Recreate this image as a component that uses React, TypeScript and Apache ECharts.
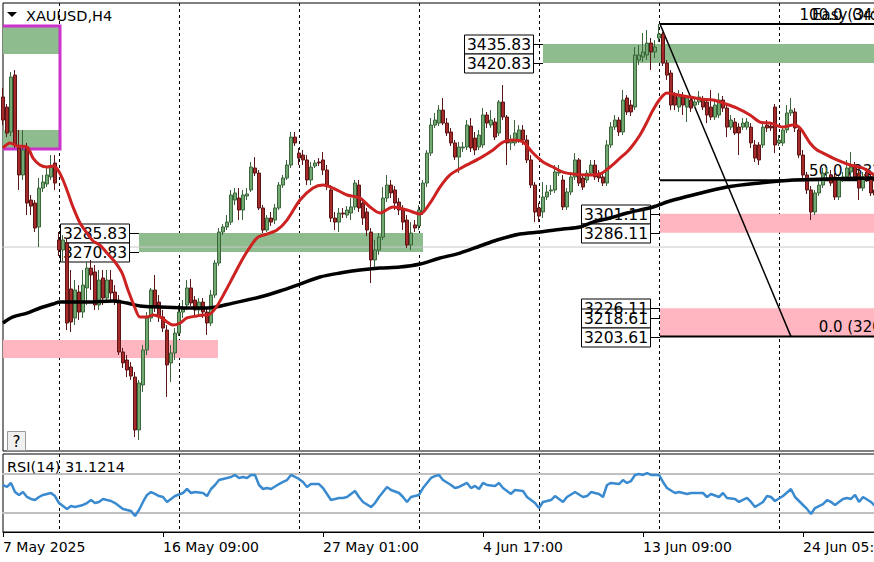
import React, { useEffect, useRef } from "react";
import * as echarts from "echarts";

const FONT = "DejaVu Sans";

// ---------- axis / categories ----------
const barCount = 219;
const categories = Array.from({ length: barCount }, (_, i) => String(i));
const tickIndex = [0, 40, 80, 120, 160, 200];
const tickLabels = ["7 May 2025", "16 May 09:00", "27 May 01:00", "4 Jun 17:00", "13 Jun 09:00", "24 Jun 05:00"];
const gridLineFirst = 14;
const gridLineStep = 30;
const priceMin = 3112.8;
const priceMax = 3468.4;
const rsiMin = 10.5;
const rsiMax = 90.5;

// ---------- candles: [open, close, low, high] ----------
const ohlc = [
  [3393.8, 3375.5, 3371.5, 3400.9], [3385.8, 3365.2, 3362.0, 3388.2], [3366.0, 3409.6, 3362.8, 3413.6], [3411.2, 3355.7, 3353.3, 3415.2],
  [3353.3, 3331.9, 3320.0, 3367.6], [3331.9, 3351.7, 3327.9, 3367.6], [3354.1, 3309.6, 3300.1, 3357.3], [3312.0, 3307.2, 3300.1, 3316.0],
  [3309.6, 3289.8, 3286.6, 3312.0], [3290.6, 3321.5, 3274.7, 3329.5], [3321.5, 3326.3, 3318.4, 3331.9], [3324.7, 3331.9, 3322.3, 3339.0],
  [3330.3, 3338.2, 3327.9, 3347.7], [3341.4, 3325.5, 3320.0, 3347.7], [3280.3, 3272.3, 3267.6, 3286.6], [3272.3, 3280.3, 3262.8, 3284.2],
  [3277.9, 3214.4, 3208.8, 3281.9], [3241.4, 3215.2, 3207.2, 3256.5], [3218.4, 3240.6, 3212.8, 3248.5], [3239.0, 3223.1, 3216.8, 3244.5],
  [3223.1, 3244.5, 3218.4, 3256.5], [3242.2, 3258.0, 3228.7, 3262.8], [3258.0, 3252.5, 3240.6, 3264.4], [3254.9, 3228.7, 3224.7, 3260.4],
  [3228.7, 3248.5, 3224.7, 3256.5], [3250.1, 3234.2, 3228.7, 3256.5], [3234.2, 3248.5, 3231.0, 3256.5], [3248.5, 3238.2, 3232.6, 3256.5],
  [3239.0, 3232.6, 3228.7, 3244.5], [3232.6, 3191.4, 3189.0, 3236.6], [3191.4, 3182.7, 3178.7, 3194.6], [3185.0, 3177.1, 3171.5, 3189.0],
  [3179.5, 3172.3, 3169.2, 3183.4], [3171.5, 3129.5, 3123.9, 3175.5], [3129.5, 3166.8, 3121.5, 3169.2], [3165.2, 3193.0, 3159.6, 3196.9],
  [3193.0, 3218.4, 3189.0, 3223.1], [3218.4, 3240.6, 3215.2, 3242.2], [3240.6, 3226.3, 3223.1, 3252.5], [3231.0, 3219.2, 3215.2, 3236.6],
  [3219.2, 3210.4, 3207.2, 3224.7], [3208.8, 3181.1, 3155.7, 3212.8], [3182.7, 3190.6, 3167.6, 3196.9], [3190.6, 3206.4, 3185.0, 3210.4],
  [3206.4, 3223.1, 3204.1, 3228.7], [3223.1, 3226.3, 3218.4, 3232.6], [3228.7, 3242.2, 3224.7, 3248.5], [3242.2, 3230.3, 3227.9, 3249.3],
  [3232.6, 3224.7, 3220.7, 3235.8], [3224.7, 3231.0, 3221.5, 3234.2], [3231.0, 3223.1, 3218.4, 3234.2], [3223.1, 3214.4, 3204.9, 3226.3],
  [3214.4, 3236.6, 3212.0, 3240.6], [3236.6, 3262.0, 3234.2, 3264.4], [3262.0, 3286.6, 3259.6, 3289.8], [3286.6, 3290.6, 3284.2, 3292.9],
  [3290.6, 3294.5, 3288.2, 3300.1], [3294.5, 3316.0, 3292.2, 3320.0], [3312.0, 3317.6, 3308.0, 3321.5], [3313.6, 3304.1, 3296.1, 3321.5],
  [3304.1, 3316.0, 3296.1, 3320.0], [3315.2, 3316.8, 3312.0, 3321.5], [3320.0, 3338.2, 3318.4, 3342.2], [3337.4, 3333.4, 3331.1, 3346.1],
  [3333.4, 3305.7, 3304.1, 3335.8], [3305.7, 3288.2, 3285.8, 3308.0], [3288.2, 3297.7, 3286.6, 3300.1], [3297.7, 3294.5, 3291.4, 3302.5],
  [3296.1, 3305.7, 3292.9, 3308.8], [3305.7, 3323.9, 3304.1, 3326.3], [3323.9, 3329.5, 3321.5, 3331.9], [3329.5, 3339.8, 3327.9, 3343.8],
  [3339.8, 3362.0, 3337.4, 3366.0], [3362.0, 3357.3, 3354.9, 3366.0], [3349.3, 3345.3, 3339.8, 3353.3], [3347.7, 3343.8, 3339.8, 3351.7],
  [3343.8, 3327.9, 3323.9, 3347.7], [3327.9, 3338.2, 3323.9, 3342.2], [3339.0, 3341.4, 3337.4, 3343.8], [3342.2, 3341.4, 3339.0, 3345.3],
  [3343.8, 3335.8, 3331.9, 3350.1], [3335.8, 3323.9, 3320.0, 3339.8], [3320.0, 3297.7, 3294.5, 3323.9], [3297.7, 3294.5, 3288.2, 3302.5],
  [3294.5, 3301.7, 3286.6, 3305.7], [3301.7, 3300.9, 3297.7, 3305.7], [3300.1, 3304.1, 3297.7, 3307.2], [3301.7, 3306.5, 3296.1, 3313.6],
  [3306.5, 3325.5, 3304.1, 3327.9], [3323.9, 3305.7, 3302.5, 3327.9], [3309.6, 3297.7, 3292.2, 3313.6], [3302.5, 3288.2, 3283.4, 3305.7],
  [3286.6, 3264.4, 3246.1, 3289.8], [3264.4, 3272.3, 3258.0, 3280.3], [3272.3, 3282.6, 3268.4, 3285.8], [3282.6, 3313.6, 3280.3, 3322.3],
  [3313.6, 3323.9, 3310.4, 3331.9], [3323.9, 3317.6, 3313.6, 3327.9], [3320.0, 3309.6, 3304.1, 3323.1], [3310.4, 3304.1, 3300.1, 3313.6],
  [3304.1, 3294.5, 3288.2, 3308.0], [3296.1, 3276.3, 3273.9, 3300.1], [3276.3, 3285.8, 3272.3, 3294.5], [3292.2, 3289.8, 3286.6, 3296.1],
  [3291.4, 3304.1, 3288.2, 3308.0], [3302.5, 3325.5, 3300.1, 3327.9], [3325.5, 3349.3, 3322.3, 3351.7], [3349.3, 3371.5, 3346.9, 3377.1],
  [3371.5, 3375.5, 3369.2, 3381.1], [3373.1, 3383.4, 3370.7, 3387.4], [3383.4, 3373.1, 3371.5, 3393.0], [3373.1, 3365.2, 3362.8, 3377.1],
  [3366.0, 3357.3, 3354.9, 3369.2], [3357.3, 3346.1, 3343.8, 3359.6], [3346.1, 3354.1, 3333.4, 3358.0], [3353.3, 3354.1, 3350.1, 3358.0],
  [3354.1, 3371.5, 3351.7, 3375.5], [3370.7, 3353.3, 3350.1, 3377.1], [3361.2, 3351.7, 3347.7, 3366.0], [3354.1, 3363.6, 3351.7, 3367.6],
  [3355.7, 3379.5, 3353.3, 3385.0], [3379.5, 3373.1, 3369.2, 3381.9], [3371.5, 3375.5, 3369.2, 3383.4], [3373.9, 3362.0, 3359.6, 3377.1],
  [3365.2, 3389.8, 3362.8, 3391.4], [3389.8, 3377.9, 3375.5, 3403.3], [3377.9, 3357.3, 3339.8, 3379.5], [3357.3, 3359.6, 3351.7, 3363.6],
  [3357.3, 3365.2, 3354.9, 3375.5], [3359.6, 3367.6, 3357.3, 3371.5], [3367.6, 3359.6, 3355.7, 3371.5], [3359.6, 3343.8, 3341.4, 3363.6],
  [3343.8, 3323.9, 3321.5, 3347.7], [3323.9, 3302.5, 3294.5, 3326.3], [3305.7, 3299.3, 3294.5, 3309.6], [3302.5, 3314.4, 3297.7, 3326.3],
  [3314.4, 3318.4, 3312.0, 3323.9], [3319.2, 3320.0, 3316.0, 3323.9], [3320.0, 3334.3, 3317.6, 3339.8], [3333.4, 3334.3, 3331.1, 3339.8],
  [3327.9, 3306.5, 3304.1, 3331.9], [3306.5, 3318.4, 3304.1, 3321.5], [3318.4, 3330.3, 3316.0, 3334.3], [3330.3, 3343.8, 3327.9, 3349.3],
  [3343.8, 3325.5, 3323.1, 3345.3], [3329.5, 3322.3, 3320.0, 3331.9], [3327.9, 3333.4, 3325.5, 3335.8], [3333.4, 3339.8, 3331.1, 3343.8],
  [3339.8, 3330.3, 3327.9, 3343.8], [3333.4, 3329.5, 3326.3, 3335.8], [3330.3, 3325.5, 3323.1, 3332.7], [3325.5, 3355.7, 3323.1, 3359.6],
  [3355.7, 3370.0, 3353.3, 3373.9], [3370.0, 3375.5, 3367.6, 3379.5], [3375.5, 3366.0, 3362.8, 3377.9], [3366.0, 3391.4, 3363.6, 3399.3],
  [3393.0, 3381.9, 3379.5, 3395.3], [3387.4, 3381.9, 3378.7, 3391.4], [3385.8, 3427.1, 3383.4, 3433.4], [3423.1, 3427.1, 3419.2, 3435.0],
  [3425.5, 3429.5, 3421.5, 3444.6], [3427.1, 3436.6, 3423.1, 3446.9], [3436.6, 3429.5, 3415.2, 3440.6], [3429.5, 3433.4, 3424.7, 3439.0],
  [3440.6, 3443.8, 3437.4, 3451.7], [3443.8, 3420.7, 3418.4, 3445.4], [3420.7, 3411.2, 3407.3, 3423.1], [3412.8, 3387.4, 3383.4, 3415.2],
  [3395.3, 3387.4, 3383.4, 3397.7], [3385.8, 3393.8, 3381.9, 3399.3], [3393.8, 3387.4, 3379.5, 3397.7], [3385.8, 3393.0, 3373.9, 3395.3],
  [3391.4, 3385.0, 3381.9, 3394.6], [3387.4, 3389.8, 3385.0, 3393.0], [3389.8, 3393.8, 3387.4, 3398.5], [3391.4, 3385.8, 3383.4, 3394.6],
  [3389.8, 3379.5, 3373.1, 3393.0], [3385.8, 3377.9, 3375.5, 3399.3], [3377.9, 3387.4, 3375.5, 3391.4], [3379.5, 3391.4, 3377.1, 3396.9],
  [3391.4, 3385.0, 3381.9, 3394.6], [3385.0, 3369.9, 3362.0, 3388.2], [3369.9, 3375.5, 3367.6, 3379.5], [3373.9, 3365.2, 3363.6, 3377.1],
  [3369.9, 3365.2, 3347.7, 3373.1], [3369.9, 3373.1, 3367.6, 3377.1], [3369.9, 3373.9, 3367.6, 3377.1], [3369.9, 3357.3, 3353.3, 3373.1],
  [3355.7, 3345.3, 3342.2, 3359.6], [3355.7, 3343.8, 3339.8, 3358.0], [3355.7, 3369.9, 3353.3, 3373.1], [3371.5, 3369.2, 3366.0, 3375.5],
  [3370.7, 3369.2, 3366.8, 3373.9], [3385.8, 3355.7, 3349.3, 3388.2], [3357.3, 3359.6, 3354.9, 3363.6], [3357.3, 3367.6, 3354.9, 3370.7],
  [3367.6, 3381.1, 3365.2, 3387.4], [3381.1, 3383.4, 3378.7, 3393.0], [3381.9, 3369.2, 3366.0, 3385.0], [3367.6, 3347.7, 3345.3, 3370.7],
  [3347.7, 3331.9, 3329.5, 3351.7], [3331.9, 3320.0, 3316.8, 3334.3], [3320.0, 3302.5, 3296.1, 3323.1], [3302.5, 3317.6, 3300.1, 3320.0],
  [3317.6, 3323.9, 3315.2, 3327.9], [3323.9, 3333.4, 3321.5, 3337.4], [3333.4, 3333.9, 3329.5, 3337.4], [3331.9, 3325.5, 3323.1, 3335.8],
  [3330.3, 3314.4, 3312.0, 3333.4], [3314.4, 3327.9, 3312.0, 3331.1], [3329.5, 3330.3, 3326.3, 3334.3], [3330.3, 3337.4, 3327.9, 3343.8],
  [3334.3, 3338.2, 3331.9, 3350.1], [3338.2, 3330.3, 3327.9, 3342.2], [3333.4, 3321.5, 3312.0, 3337.4], [3321.5, 3330.3, 3319.2, 3334.3],
  [3334.3, 3329.5, 3326.3, 3337.4], [3330.3, 3317.6, 3315.2, 3334.3], [3320.0, 3316.0, 3313.6, 3323.9],
];

// ---------- moving averages: [bar position, price] ----------
const maFast = [
  [0, 3353.3], [1.75, 3357.3], [3.5, 3354.9], [6, 3354.1], [7.5, 3345.3], [9.25, 3339.8], [11, 3338.2], [12.5, 3339.0],
  [13.75, 3335.8], [15, 3327.9], [16.25, 3317.6], [17.5, 3306.5], [19.25, 3293.8], [21, 3285.8], [22.5, 3279.5], [24.25, 3276.3],
  [26, 3269.9], [28, 3262.8], [29.75, 3254.1], [31.25, 3240.6], [33, 3226.3], [34.25, 3219.2], [36, 3219.2], [37.5, 3220.7],
  [39.25, 3219.2], [41, 3215.2], [42.5, 3212.8], [44.25, 3214.4], [46, 3218.4], [48.5, 3220.0], [50, 3220.7], [51.75, 3221.5],
  [53.5, 3227.9], [55.5, 3239.0], [57.5, 3250.9], [59.75, 3264.4], [61.75, 3274.7], [63.75, 3282.6], [66, 3285.0], [68.5, 3288.2],
  [71, 3296.1], [74.25, 3312.0], [77.5, 3321.5], [80, 3323.9], [82.5, 3321.5], [86, 3316.0], [89.25, 3313.6], [91.75, 3306.5],
  [94.25, 3301.7], [97.5, 3306.5], [101, 3304.1], [104.25, 3300.9], [106.75, 3309.6], [109.25, 3322.3], [111.75, 3331.9], [115, 3338.2],
  [119.25, 3345.3], [122.5, 3351.7], [125, 3358.0], [127.5, 3359.6], [130, 3358.0], [132.5, 3349.3], [135, 3342.2], [137.5, 3338.2],
  [140, 3334.2], [142.5, 3332.7], [146, 3331.9], [149.25, 3332.7], [151.75, 3338.2], [154.25, 3345.3], [156, 3350.1], [157.5, 3355.7],
  [159.25, 3363.6], [161, 3373.9], [162.5, 3383.4], [164.25, 3392.2], [166, 3396.9], [167.5, 3396.1], [171.75, 3393.8], [174.25, 3392.2],
  [177.5, 3391.4], [180, 3389.0], [183.5, 3385.0], [186.75, 3379.5], [189.25, 3373.9], [191.75, 3373.1], [195, 3370.0], [197.5, 3371.5],
  [199.25, 3369.2], [201.75, 3357.3], [203.5, 3351.7], [205, 3349.3], [208.5, 3343.8], [211.75, 3339.8], [215, 3337.4], [217.75, 3331.9],
];
const maSlow = [
  [0, 3214.4], [2.5, 3219.2], [6, 3222.3], [9.25, 3226.3], [12.5, 3229.5], [14.25, 3231.0], [21, 3231.0], [27.5, 3231.8],
  [31, 3230.2], [34.25, 3227.9], [39.25, 3227.1], [46, 3226.3], [51, 3226.3], [57.5, 3230.2], [64.25, 3235.0], [69.25, 3239.8],
  [74.25, 3245.3], [79.25, 3250.9], [84.25, 3254.1], [89.25, 3256.5], [94.25, 3258.0], [99.25, 3258.8], [104.25, 3261.2], [109.25, 3266.0],
  [114.25, 3269.9], [119.25, 3275.5], [123.5, 3280.3], [129.25, 3285.0], [134.25, 3286.6], [140, 3289.0], [144.25, 3290.6], [147.5, 3294.5],
  [151.75, 3297.7], [156, 3301.7], [162.5, 3306.5], [166.75, 3311.2], [172.5, 3316.0], [181, 3322.3], [189.25, 3325.5], [197.5, 3327.9],
  [206, 3328.7], [217.75, 3329.5],
];

// ---------- RSI(14): [bar, value] ----------
const rsiPoints = [
  [0, 58.7], [1, 56.7], [2, 60.8], [3, 51.5], [4, 48.5], [5, 51.5], [6, 46.4], [7, 44.4], [8, 43.3], [9, 46.4], [10, 48.5], [12, 50.5],
  [13, 47.4], [14, 40.2], [15, 37.2], [16, 34.1], [17, 37.2], [18, 36.1], [20, 38.2], [21, 40.2], [22, 43.3], [23, 40.2], [24, 41.3],
  [25, 44.4], [26, 43.3], [27, 42.3], [28, 40.2], [29, 37.2], [30, 34.1], [31, 33.1], [32, 32.0], [33, 26.9], [34, 33.1], [35, 41.3],
  [36, 48.5], [37, 51.5], [38, 49.5], [39, 47.4], [40, 46.4], [41, 41.3], [42, 44.4], [43, 47.4], [45, 50.5], [46, 54.6], [47, 50.5],
  [48, 51.5], [50, 50.5], [51, 47.4], [52, 54.6], [53, 58.7], [54, 63.8], [55, 64.9], [57, 66.9], [58, 69.0], [59, 65.9], [60, 66.9],
  [61, 65.9], [62, 69.0], [63, 69.0], [64, 58.7], [65, 54.6], [66, 55.6], [67, 54.6], [69, 59.7], [70, 61.8], [71, 63.8], [72, 69.0],
  [74, 64.9], [75, 61.8], [76, 56.7], [77, 59.7], [79, 59.7], [80, 55.6], [81, 49.5], [82, 43.3], [84, 45.4], [85, 45.4], [86, 46.4],
  [88, 52.6], [89, 46.4], [90, 41.3], [92, 36.1], [93, 40.2], [94, 46.4], [96, 56.7], [97, 53.6], [99, 50.5], [100, 46.4], [101, 41.3],
  [102, 46.4], [104, 48.5], [105, 55.6], [107, 65.9], [108, 67.9], [109, 69.0], [110, 63.8], [112, 58.7], [113, 55.6], [114, 56.7],
  [116, 60.8], [117, 55.6], [118, 57.7], [119, 54.6], [120, 60.8], [121, 58.7], [123, 57.7], [124, 60.8], [125, 55.6], [127, 49.5],
  [128, 53.6], [130, 52.6], [131, 46.4], [133, 40.2], [134, 35.1], [135, 41.3], [137, 43.3], [138, 47.4], [140, 41.3], [141, 46.4],
  [143, 51.5], [145, 46.4], [146, 47.4], [147, 51.5], [149, 49.5], [150, 46.4], [151, 58.7], [152, 60.8], [154, 59.7], [155, 63.8],
  [156, 60.8], [157, 62.8], [158, 69.0], [159, 70.0], [160, 69.0], [161, 71.0], [162, 69.0], [164, 69.0], [165, 61.8], [166, 55.6],
  [168, 50.5], [169, 51.5], [171, 49.5], [172, 50.5], [173, 50.5], [175, 50.5], [176, 46.4], [177, 49.5], [179, 46.4], [180, 50.5],
  [181, 45.4], [183, 44.4], [184, 41.3], [186, 45.4], [187, 41.3], [188, 36.1], [190, 41.3], [191, 47.4], [192, 46.4], [193, 42.3],
  [195, 47.4], [197, 54.6], [198, 46.4], [200, 38.2], [201, 34.1], [202, 29.0], [203, 35.1], [205, 39.2], [206, 43.3], [207, 41.3],
  [208, 38.2], [210, 44.4], [211, 45.4], [212, 44.4], [213, 48.5], [214, 41.3], [215, 46.4], [217, 41.3], [218, 37.2],
];
const rsiLevels = [70, 30];
const rsiTitle = "RSI(14) 31.1214";

// ---------- objects: zones [fromBar, toBar, low, high] ----------
const greenZones = [
  [-1, 14.25, 3427.9, 3450.1],
  [-1, 14.25, 3353.3, 3367.6],
  [135, 222, 3420.83, 3435.83],
  [34, 105, 3270.83, 3285.83],
];
const pinkZones = [
  [-1, 53.75, 3186.6, 3200.9],
  [164.25, 222, 3286.11, 3301.11],
  [164.25, 222, 3203.61, 3226.11],
];
const magentaBox = [[-1, 14.25, 3352.5, 3450.1]];
const priceLine = 3274.7;

// price tags: [zone start bar, price]
const priceTags = [
  [135, 3435.83], [135, 3420.83],
  [34, 3285.83], [34, 3270.83],
  [164.25, 3301.11], [164.25, 3286.11], [164.25, 3226.11], [164.25, 3218.61], [164.25, 3203.61],
];

// fibonacci
const fibStart = 164.25;
const fibEnd = 197;
const fibHigh = 3451.71;
const fibLow = 3203.61;
const fibLevels = [100, 50, 0];

const symbolTitle = "XAUUSD,H4";

export default function App() {
  const ref = useRef<HTMLDivElement>(null);

  useEffect(() => {
    const chart = echarts.init(ref.current!, null, { renderer: "svg" });

    const zoneSeries = (data: number[][], style: any, z: number) => ({
      type: "custom",
      xAxisIndex: 1,
      yAxisIndex: 0,
      clip: true,
      silent: true,
      z,
      encode: { x: [0, 1], y: [2, 3] },
      data,
      renderItem: (_p: any, api: any) => {
        const a = api.coord([api.value(0), api.value(3)]);
        const b = api.coord([api.value(1), api.value(2)]);
        return {
          type: "rect",
          shape: { x: a[0], y: a[1], width: b[0] - a[0], height: b[1] - a[1] },
          style,
        };
      },
    });

    const fibPrice = (lvl: number) => fibLow + ((fibHigh - fibLow) * lvl) / 100;
    const levelLine = (p: number) => ({
      type: "line",
      xAxisIndex: 1,
      yAxisIndex: 0,
      data: [[fibStart, p], [230, p]],
      symbol: "none",
      silent: true,
      z: 2,
      lineStyle: { color: "#000", width: 2 },
    });

    const isGridLine = (i: number) => i % gridLineStep === gridLineFirst;
    const isTick = (i: number) => tickIndex.indexOf(i) >= 0;

    const option: any = {
      animation: false,
      textStyle: { fontFamily: FONT },
      grid: [
        { left: 3, top: 3, width: 872, height: 448, show: true, borderColor: "#000", borderWidth: 1, containLabel: false, outerBoundsMode: "none" },
        { left: 3, top: 454, width: 872, height: 78, show: true, borderColor: "#000", borderWidth: 1, containLabel: false, outerBoundsMode: "none" },
      ],
      xAxis: [
        {
          type: "category", gridIndex: 0, data: categories, boundaryGap: false,
          axisLine: { show: false }, axisTick: { show: false }, axisLabel: { show: false },
          splitLine: { show: true, interval: (i: number) => isGridLine(i), lineStyle: { color: "#000", width: 1, type: [3, 3] } },
        },
        { type: "value", gridIndex: 0, min: 0, max: barCount - 1, show: false, splitLine: { show: false } },
        {
          type: "category", gridIndex: 1, data: categories, boundaryGap: false, position: "bottom",
          axisLine: { show: true, lineStyle: { color: "#000", width: 1 } },
          axisTick: { show: true, interval: (i: number) => isTick(i), length: 5, lineStyle: { color: "#000" } },
          axisLabel: {
            show: true, interval: (i: number) => isTick(i), align: "left", margin: 8,
            color: "#000", fontSize: 14, fontFamily: FONT,
            formatter: (_v: string, i: number) => {
              const k = tickIndex.indexOf(i);
              return k >= 0 ? tickLabels[k] : "";
            },
          },
          splitLine: { show: true, interval: (i: number) => isGridLine(i), lineStyle: { color: "#000", width: 1, type: [3, 3] } },
        },
        { type: "value", gridIndex: 1, min: 0, max: barCount - 1, show: false, splitLine: { show: false } },
      ],
      yAxis: [
        { type: "value", gridIndex: 0, min: priceMin, max: priceMax, show: false, splitLine: { show: false } },
        { type: "value", gridIndex: 1, min: rsiMin, max: rsiMax, show: false, splitLine: { show: false } },
      ],
      series: [
        zoneSeries(greenZones, { fill: "#8FBC8F" }, 1),
        zoneSeries(pinkZones, { fill: "#FFB6C1" }, 1),
        zoneSeries(magentaBox, { fill: "none", stroke: "#CC33CC", lineWidth: 3 }, 2),
        {
          type: "line", xAxisIndex: 1, yAxisIndex: 0, data: [[-1, priceLine], [230, priceLine]],
          symbol: "none", silent: true, z: 1, lineStyle: { color: "#C8C8C8", width: 1 },
        },
        ...fibLevels.map((l) => levelLine(fibPrice(l))),
        {
          type: "line", xAxisIndex: 1, yAxisIndex: 0, data: [[fibStart, fibHigh], [fibEnd, fibLow]],
          symbol: "none", silent: true, z: 2, lineStyle: { color: "#000", width: 1.5 },
        },
        {
          type: "candlestick", xAxisIndex: 0, yAxisIndex: 0, data: ohlc, barWidth: 2.6, z: 3,
          itemStyle: { color: "#72A872", color0: "#A52A2A", borderColor: "#3A663A", borderColor0: "#5C1515", borderWidth: 1 },
        },
        {
          type: "line", xAxisIndex: 1, yAxisIndex: 0, data: maSlow, symbol: "none", smooth: 0.3, z: 4,
          lineStyle: { color: "#000", width: 3.5 },
        },
        {
          type: "line", xAxisIndex: 1, yAxisIndex: 0, data: maFast, symbol: "none", smooth: 0.3, z: 5,
          lineStyle: { color: "#CC2222", width: 3 },
        },
        ...rsiLevels.map((lv) => ({
          type: "line", xAxisIndex: 3, yAxisIndex: 1, data: [[-1, lv], [230, lv]],
          symbol: "none", silent: true, z: 1, lineStyle: { color: "#C0C0C0", width: 2 },
        })),
        {
          type: "line", xAxisIndex: 3, yAxisIndex: 1, data: rsiPoints, symbol: "none", z: 3,
          lineStyle: { color: "#3A8AD0", width: 2.5 },
        },
      ],
    };

    chart.setOption(option);

    const toPx = (v: number, p: number) =>
      chart.convertToPixel({ xAxisIndex: 1, yAxisIndex: 0 } as any, [v, p]) as number[];

    const txt = (text: string, x: number, y: number, size: number, align = "left", va = "middle", z = 2) => ({
      type: "text",
      x,
      y,
      z,
      silent: true,
      style: {
        text, fill: "#000", fontSize: size, fontFamily: FONT,
        align, verticalAlign: va, textAlign: align, textVerticalAlign: va,
      },
    });

    const g: any[] = [];
    // price tag boxes
    const boxW = 69;
    const boxH = 19;
    const gap = 10;
    const tagPx = priceTags.map(([v, p]) => ({ pt: toPx(v, p), p }));
    tagPx.forEach(({ pt }) => {
      const right = Math.round(pt[0]) - gap;
      const y = Math.round(pt[1]);
      g.push({
        type: "line", z: 2, silent: true,
        shape: { x1: right, y1: y + 0.5, x2: Math.round(pt[0]), y2: y + 0.5 },
        style: { stroke: "#000", lineWidth: 1 },
      });
      g.push({
        type: "rect", z: 2, silent: true,
        shape: { x: right - boxW + 0.5, y: y - boxH / 2 + 0.5, width: boxW, height: boxH },
        style: { fill: "#fff", stroke: "#000", lineWidth: 1 },
      });
    });
    tagPx.forEach(({ pt, p }) => {
      const right = Math.round(pt[0]) - gap;
      g.push(txt(p.toFixed(2), right - boxW + 3, Math.round(pt[1]) + 1, 15.5));
    });

    // fibonacci level texts
    fibLevels.forEach((l) => {
      const p = fibPrice(l);
      const pt = toPx(229.5, p);
      g.push(txt(`${l.toFixed(1)} (${p.toFixed(2)})`, pt[0], pt[1] - 2, 15, "right", "bottom"));
    });
    const topPt = toPx(229.5, fibHigh);
    g.push(txt("Easy Order", 812, topPt[1] - 2, 15, "left", "bottom"));

    // header & panel titles
    g.push({ type: "polygon", z: 6, silent: true, shape: { points: [[7, 12], [17, 12], [12, 17]] }, style: { fill: "#000" } });
    g.push(txt(symbolTitle, 26, 16, 14.5, "left", "middle", 6));
    g.push(txt(rsiTitle, 7, 467, 14.5, "left", "middle", 6));
    g.push({
      type: "rect", z: 6, silent: true,
      shape: { x: 7.5, y: 431.5, width: 18, height: 19 },
      style: { fill: "#F0F0F0", stroke: "#9A9A9A", lineWidth: 1 },
    });
    g.push(txt("?", 16.5, 441.5, 15, "center", "middle", 7));

    chart.setOption({ graphic: g });

    return () => chart.dispose();
  }, []);

  return (
    <div
      ref={ref}
      style={{ position: "absolute", left: 0, top: 0, width: 874, height: 562, background: "#fff" }}
    />
  );
}
